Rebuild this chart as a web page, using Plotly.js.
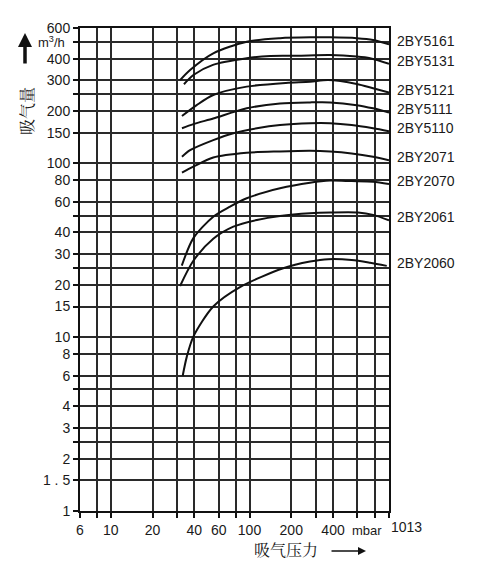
<!DOCTYPE html>
<html>
<head>
<meta charset="utf-8">
<script src="https://cdn.plot.ly/plotly-3.0.1.min.js"></script>
<style>html,body{margin:0;padding:0;background:#fff;}#chart{width:479px;height:571px;}</style>
</head>
<body>
<div id="chart"></div>
<script>
// ---- data ----
const seriesNames = ['2BY5161','2BY5131','2BY5121','2BY5111','2BY5110','2BY2071','2BY2070','2BY2061','2BY2060'];

const x5161 = [31.6, 37.3, 54.8, 95.5, 166, 273, 381, 593, 778, 1013];
const y5161 = [301, 344, 429, 500, 524, 530, 530, 524, 512, 483];

const x5131 = [33.7, 39.4, 54.5, 95.5, 141, 219, 381, 593, 740, 1013];
const y5131 = [285, 322, 368, 402, 414, 415, 419, 411, 402, 374];

const x5121 = [32.6, 41.6, 54.8, 95.5, 183, 273, 368, 593, 778, 1013];
const y5121 = [187, 216, 247, 276, 290, 294, 301, 286, 270, 255];

const x5111 = [32.6, 39.4, 54.8, 95.5, 166, 273, 381, 593, 778, 1013];
const y5111 = [159, 168, 181, 207, 221, 224, 224, 216, 207, 196];

const x5110 = [32.6, 37.3, 54.8, 76.5, 113, 166, 273, 381, 545, 778, 1013];
const y5110 = [109, 119, 136, 149, 159, 166, 170, 170, 166, 159, 153];

const x2071 = [32.6, 39.4, 54.8, 95.5, 166, 273, 381, 545, 778, 1013];
const y2071 = [88.3, 95.6, 108, 115, 117, 118, 117, 114, 109, 104];

const x2070 = [32.5, 39.4, 54.8, 72.4, 95.5, 166, 273, 381, 545, 778, 1013];
const y2070 = [25.8, 37.1, 49.3, 56.3, 62.9, 71.8, 77.3, 79.5, 79, 78.4, 76];

const x2061 = [31.6, 39.4, 54.8, 76.5, 113, 166, 273, 381, 606, 778, 1013];
const y2061 = [19.7, 27.5, 36.8, 43.2, 47.2, 49.8, 51.6, 52.1, 52.1, 50.5, 47];

const x2060 = [33, 35.3, 39.4, 54.8, 85.4, 175, 273, 370, 545, 740, 976];
const y2060 = [6.0, 7.7, 10.07, 15.0, 19.4, 24.9, 27.2, 28.1, 27.8, 26.8, 25.7];

const xTickVals = [6, 8, 10, 20, 30, 40, 60, 80, 100, 200, 300, 400, 600, 800, 1013];
const xTickText = ['6', '', '10', '20', '', '40', '60', '', '100', '200', '', '400', '', '', ''];
const yTickVals = [1, 1.5, 2, 2.5, 3, 4, 5, 6, 8, 10, 15, 20, 25, 30, 40, 50, 60, 80, 100, 150, 200, 250, 300, 400, 500, 600];
const yTickText = ['1', '1 . 5', '2', '', '3', '4', '', '6', '8', '10', '15', '20', '', '30', '40', '', '60', '80', '100', '150', '200', '', '300', '400', '', '600'];
const xMin = 6, xMax = 1013, yMin = 1, yMax = 600;
const unitLabel = 'mbar';
const endLabel = '1013';
const yTitle = '吸气量';
const yUnit = 'm<sup>3</sup>/h';
const xTitle = '吸气压力';

// ---- chart ----
const xs = [x5161, x5131, x5121, x5111, x5110, x2071, x2070, x2061, x2060];
const ys = [y5161, y5131, y5121, y5111, y5110, y2071, y2070, y2061, y2060];

const lineColor = '#111';
const traces = seriesNames.map((n, i) => ({
  type: 'scatter', mode: 'lines', name: n,
  x: xs[i], y: ys[i],
  line: {color: lineColor, width: 2, shape: 'spline', smoothing: 0.8},
  hoverinfo: 'skip', cliponaxis: false
}));

const font = {family: 'Liberation Sans, Arial, sans-serif', size: 14, color: '#1a1a1a'};
const cjk = 'Noto Serif CJK SC, Noto Sans CJK SC, serif';

const annotations = seriesNames.map((n, i) => ({
  xref: 'x', yref: 'y', x: Math.log10(xMax), y: Math.log10(ys[i][ys[i].length - 1]),
  text: n, showarrow: false, xanchor: 'left', yanchor: 'middle', xshift: 6, yshift: 3,
  font: font
}));
annotations.push(
  {xref: 'x', yref: 'paper', x: Math.log10(xMax), y: 0, text: endLabel, showarrow: false,
   xanchor: 'left', yanchor: 'top', xshift: 0, yshift: -6, font: font},
  {xref: 'x', yref: 'paper', x: Math.log10(700), y: 0, text: unitLabel, showarrow: false,
   xanchor: 'center', yanchor: 'top', yshift: -10, font: Object.assign({}, font, {size: 13})},
  {xref: 'paper', yref: 'paper', x: -0.175, y: 0.828, text: yTitle, showarrow: false,
   textangle: -90, xanchor: 'center', yanchor: 'middle', font: {family: cjk, size: 16, color: '#1a1a1a'}},
  {xref: 'paper', yref: 'paper', x: -0.092, y: 0.972, text: yUnit, showarrow: false,
   xanchor: 'center', yanchor: 'middle', font: Object.assign({}, font, {size: 13})},
  {xref: 'paper', yref: 'paper', x: -0.178, y: 0.9896, text: '', showarrow: true,
   ax: 0, ay: 32, arrowhead: 2, arrowsize: 0.8, arrowwidth: 3.5, arrowcolor: '#111'},
  {xref: 'paper', yref: 'paper', x: 0.667, y: -0.0807, text: xTitle, showarrow: false,
   xanchor: 'center', yanchor: 'middle', font: {family: cjk, size: 16, color: '#1a1a1a'}},
  {xref: 'paper', yref: 'paper', x: 0.9256, y: -0.0828, text: '', showarrow: true,
   ax: -36, ay: 0, arrowhead: 2, arrowsize: 1, arrowwidth: 1.6, arrowcolor: '#111'}
);

const axisCommon = {
  type: 'log', showgrid: true, gridcolor: '#2a2a2a', gridwidth: 2,
  showline: true, linecolor: '#111', linewidth: 2, mirror: true,
  ticks: 'outside', ticklen: 5, tickwidth: 2, tickcolor: '#111',
  tickmode: 'array', zeroline: false, tickfont: font, fixedrange: true
};

const layout = {
  width: 479, height: 571,
  margin: {l: 80, r: 90, t: 28, b: 60},
  paper_bgcolor: '#fff', plot_bgcolor: '#fff',
  showlegend: false, font: font,
  xaxis: Object.assign({}, axisCommon, {
    range: [Math.log10(xMin), Math.log10(xMax)],
    tickvals: xTickVals, ticktext: xTickText
  }),
  yaxis: Object.assign({}, axisCommon, {
    range: [Math.log10(yMin), Math.log10(yMax)],
    tickvals: yTickVals, ticktext: yTickText
  }),
  annotations: annotations
};

Plotly.newPlot('chart', traces, layout, {staticPlot: true, displayModeBar: false});
</script>
</body>
</html>
